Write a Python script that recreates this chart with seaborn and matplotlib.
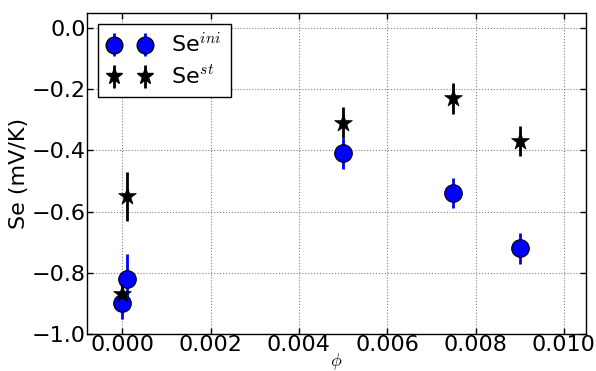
import numpy as np
import pandas as pd
import matplotlib
matplotlib.use("Agg")
import matplotlib.pyplot as plt
import seaborn as sns

# values
phi_ini = [0.0, 0.0001, 0.005, 0.0075, 0.009]
se_ini = [-0.90, -0.82, -0.41, -0.54, -0.72]
err_ini = [0.05, 0.08, 0.05, 0.05, 0.05]

phi_st = [0.0, 0.0001, 0.005, 0.0075, 0.009]
se_st = [-0.87, -0.55, -0.31, -0.23, -0.37]
err_st = [0.03, 0.08, 0.05, 0.05, 0.05]

x_ticks = [0.0, 0.002, 0.004, 0.006, 0.008, 0.010]
y_ticks = [-1.0, -0.8, -0.6, -0.4, -0.2, 0.0]

sns.set_style("white", {"axes.labelcolor": "black", "text.color": "black",
                        "xtick.color": "black", "ytick.color": "black"})
plt.rcParams["font.family"] = ["DejaVu Sans"]
plt.rcParams["mathtext.fontset"] = "cm"

fig = plt.figure(figsize=(5.96, 3.71), dpi=100)
ax = fig.add_axes([0.146, 0.10, 0.837, 0.866])

df_ini = pd.DataFrame({"phi": phi_ini, "se": se_ini})
df_st = pd.DataFrame({"phi": phi_st, "se": se_st})

ax.errorbar(phi_ini, se_ini, yerr=err_ini, fmt="none", ecolor="blue", elinewidth=2, zorder=2)
ax.errorbar(phi_st, se_st, yerr=err_st, fmt="none", ecolor="black", elinewidth=2, zorder=2)
sns.scatterplot(data=df_ini, x="phi", y="se", ax=ax, color="blue", marker="o", s=160,
                edgecolor="black", linewidth=0.8, zorder=3, legend=False)
sns.scatterplot(data=df_st, x="phi", y="se", ax=ax, color="black", marker="*", s=180,
                edgecolor="black", linewidth=0.5, zorder=3, legend=False)

# legend proxies
h1 = ax.errorbar([np.nan], [np.nan], yerr=[0.05], fmt="o", color="blue", ecolor="blue",
                 elinewidth=2, markersize=12, markeredgecolor="black", label="Se$^{ini}$")
h2 = ax.errorbar([np.nan], [np.nan], yerr=[0.05], fmt="*", color="black", ecolor="black",
                 elinewidth=2, markersize=12, label="Se$^{st}$")
leg = ax.legend(handles=[h1, h2], loc="upper left", numpoints=2, fontsize=16,
                fancybox=False, framealpha=1, edgecolor="black", borderaxespad=0.5,
                handletextpad=0.9, borderpad=0.4, labelspacing=0.4)
leg.get_frame().set_linewidth(1)

ax.set_xlim(-0.0008, 0.0105)
ax.set_ylim(-1.0, 0.05)
ax.set_xticks(x_ticks)
ax.set_xticklabels(["%.3f" % v for v in x_ticks])
ax.set_yticks(y_ticks)
ax.set_yticklabels([("%.1f" % v).replace("-", "\u2212") for v in y_ticks])
ax.tick_params(axis="both", labelsize=16, direction="in", length=4, width=1,
               top=True, right=True, bottom=True, left=True, pad=1)
ax.grid(True, color="gray", linestyle=":", linewidth=0.8)
for s in ax.spines.values():
    s.set_color("black")
    s.set_linewidth(1)

ax.set_xlabel(r"$\phi$", fontsize=13, labelpad=-3)
ax.set_ylabel("Se (mV/K)", fontsize=16, labelpad=2)

fig.savefig("out.png", dpi=100)
